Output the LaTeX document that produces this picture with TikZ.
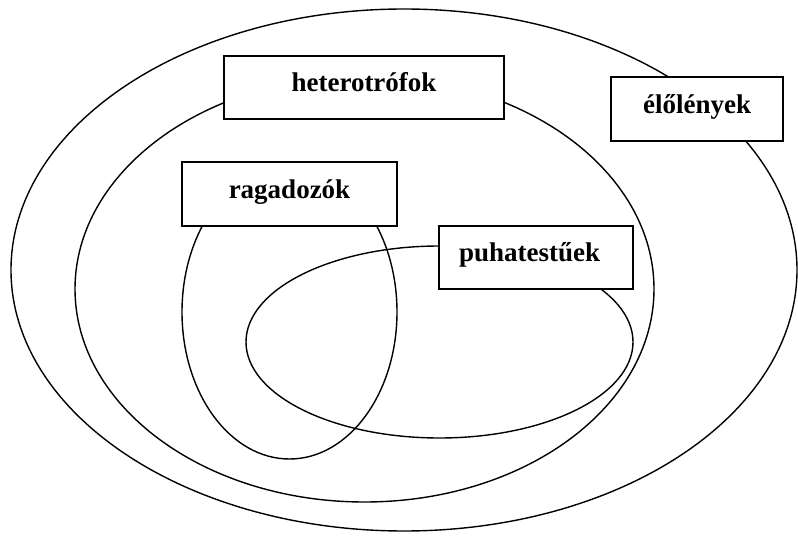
\documentclass[tikz,border=0pt]{standalone}
\usepackage{fontspec}
\setmainfont{Liberation Serif}
\usetikzlibrary{positioning}

\tikzset{
	setline/.style={line width=1.4pt},
	setbox/.style={draw, fill=white, line width=1.5pt, inner sep=0pt,
		font=\bfseries\fontsize{27}{30}\selectfont,
		text height=18pt, text depth=9pt},
}

\begin{document}
\begin{tikzpicture}[x=1pt, y=-1pt]
		%%%%% START %%%%%
		\useasboundingbox (0, 0) rectangle (798, 537);
		
		\draw[setline] (404, 270) ellipse [x radius=393pt, y radius=261pt];
		\draw[setline] (364.5, 289) ellipse [x radius=289.5pt, y radius=213pt];
		\draw[setline] (289.5, 312) ellipse [x radius=107.5pt, y radius=147pt];
		\draw[setline] (439.5, 342) ellipse [x radius=193.5pt, y radius=96pt];
		
		\node[setbox, minimum width=280pt, minimum height=63pt] (heterotrof) at (364, 87.5) {heterotrófok};
		\node[setbox, minimum width=172pt, minimum height=64pt] (eloleny) at (697, 109) {élőlények};
		\node[setbox, minimum width=215pt, minimum height=64pt] (ragadozo) at (289.5, 194) {ragadozók};
		\node[setbox, minimum width=194pt, minimum height=63pt, text width=180pt, align=left] (puhatestu) at (536, 257.5) {\hspace*{13pt}puhatestűek};
		%%%%% END %%%%%
\end{tikzpicture}
\end{document}
